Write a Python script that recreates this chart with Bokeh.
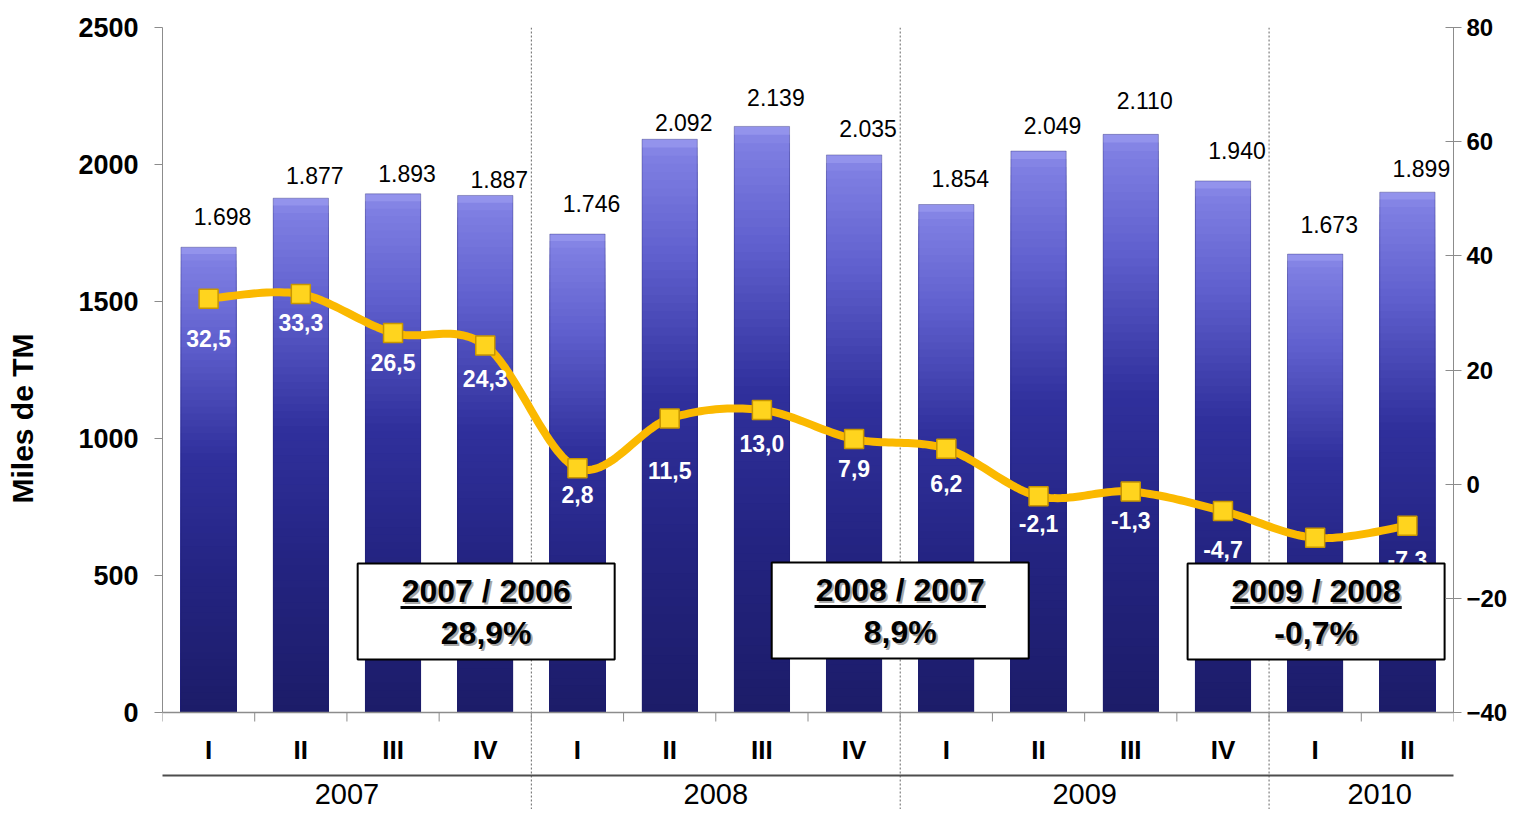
import numpy as np
from bokeh.plotting import figure
from bokeh.models import Range1d, LinearAxis, FixedTicker, Arrow
from bokeh.core.properties import value
from bokeh.embed import file_html
from bokeh.resources import INLINE

# ---------------- data ----------------
quarters = ["I", "II", "III", "IV", "I", "II", "III", "IV", "I", "II", "III", "IV", "I", "II"]
quarter_year = ["2007"] * 4 + ["2008"] * 4 + ["2009"] * 4 + ["2010"] * 2
years = ["2007", "2008", "2009", "2010"]
tonnes = [1698, 1877, 1893, 1887, 1746, 2092, 2139, 2035, 1854, 2049, 2110, 1940, 1673, 1899]
tonnes_labels = ["1.698", "1.877", "1.893", "1.887", "1.746", "2.092", "2.139", "2.035",
                 "1.854", "2.049", "2.110", "1.940", "1.673", "1.899"]
growth = [32.5, 33.3, 26.5, 24.3, 2.8, 11.5, 13.0, 7.9, 6.2, -2.1, -1.3, -4.7, -9.4, -7.3]
growth_labels = ["32,5", "33,3", "26,5", "24,3", "2,8", "11,5", "13,0", "7,9", "6,2",
                 "-2,1", "-1,3", "-4,7", "-9,4", "-7,3"]
period_titles = ["2007 / 2006", "2008 / 2007", "2009 / 2008"]
period_values = ["28,9%", "8,9%", "-0,7%"]
left_ticks = [0, 500, 1000, 1500, 2000, 2500]
right_ticks = [-40, -20, 0, 20, 40, 60, 80]

# ---------------- layout ----------------
W, H = 1510, 809
FL, FR, FT = 162, 52, 27
frame_h = H - FT
axis_px = 685.0                      # pixel height of 0..2500
u = 2500.0 / axis_px                 # left units per pixel
ur = 120.0 / axis_px                 # right units per pixel
y_lo = 2500 - frame_h * u
r_lo = 80 - frame_h * ur
n = len(tonnes)
xc = [i + 0.5 for i in range(n)]
px_x = (W - FL - FR) / n             # pixels per category
FONT = value("Liberation Sans")

p = figure(width=W, height=H, x_range=Range1d(0, n), y_range=Range1d(y_lo, 2500),
           output_backend="svg", toolbar_location=None, x_axis_location=None,
           min_border_left=FL, min_border_right=FR, min_border_top=FT, min_border_bottom=0,
           background_fill_color="white", border_fill_color="white")
p.extra_y_ranges = {"right": Range1d(r_lo, 80)}
p.grid.visible = False
p.outline_line_color = None

la = p.yaxis[0]
la.ticker = FixedTicker(ticks=left_ticks)
la.bounds = (0, 2500)
la.axis_line_color = "#8c8c8c"
la.major_tick_line_color = "#8c8c8c"
la.major_tick_out = 8
la.major_tick_in = 0
la.minor_tick_line_color = None
la.major_label_standoff = 16
la.major_label_text_font = "Liberation Sans"
la.major_label_text_font_style = "bold"
la.major_label_text_font_size = "27px"
la.major_label_text_color = "black"
la.axis_label = "Miles de TM"
la.axis_label_text_font = "Liberation Sans"
la.axis_label_text_font_style = "bold"
la.axis_label_text_font_size = "30px"
la.axis_label_text_color = "black"
la.axis_label_standoff = 36

ra = LinearAxis(y_range_name="right", ticker=FixedTicker(ticks=right_ticks), bounds=(-40, 80))
ra.axis_line_color = "#8c8c8c"
ra.major_tick_line_color = "#8c8c8c"
ra.major_tick_out = 8
ra.major_tick_in = 8
ra.minor_tick_line_color = None
ra.major_label_standoff = 5
ra.major_label_text_font = "Liberation Sans"
ra.major_label_text_font_style = "bold"
ra.major_label_text_font_size = "24px"
ra.major_label_text_color = "black"
p.add_layout(ra, "right")

# ---------------- gradient bars ----------------
stops = [(0.0, (0x9A, 0x9A, 0xF0)), (0.025, (0x80, 0x80, 0xE3)), (0.2, (0x60, 0x60, 0xCE)),
         (0.45, (0x30, 0x30, 0x9C)), (0.7, (0x24, 0x24, 0x82)), (1.0, (0x1C, 0x1C, 0x68))]


def grad(f):
    for (f0, c0), (f1, c1) in zip(stops[:-1], stops[1:]):
        if f <= f1:
            t = (f - f0) / (f1 - f0)
            return "#%02x%02x%02x" % tuple(int(round(a + (b - a) * t)) for a, b in zip(c0, c1))
    return "#%02x%02x%02x" % stops[-1][1]


N = 70
bx, btop, bcol = [], [], []
for k in range(N - 1, -1, -1):
    for i in range(n):
        bx.append(xc[i])
        btop.append(tonnes[i] * (k + 1) / N)
        bcol.append(grad(1 - (k + 0.5) / N))
p.vbar(x=bx, top=btop, bottom=0, width=0.6, fill_color=bcol, line_color=None)
p.vbar(x=xc, top=tonnes, bottom=0, width=0.6, fill_color=None, line_color="#20206a",
       line_alpha=0.35, line_width=1)

# ---------------- separators / x axis ----------------
sep_x = [i for i in range(1, n) if quarter_year[i] != quarter_year[i - 1]]
p.segment(x0=sep_x, y0=[y_lo] * len(sep_x), x1=sep_x, y1=[2600] * len(sep_x),
          line_color="#666666", line_dash="2 2", line_width=1)
p.segment(x0=[0], y0=[0], x1=[n], y1=[0], line_color="#8c8c8c", line_width=1.5)
tx = list(range(n + 1))
p.segment(x0=tx, y0=[0] * len(tx), x1=tx, y1=[-9 * u] * len(tx), line_color="#8c8c8c", line_width=1)

p.text(x=xc, y=[-37 * u] * n, text=quarters, text_font=FONT, text_font_style="bold",
       text_font_size="26px", text_align="center", text_baseline="middle", text_color="black")

year_line_end = n + 0.4
yl = -63 * u
p.add_layout(Arrow(end=None, x_start=-0.03, y_start=yl, x_end=year_line_end, y_end=yl,
                   line_color="#4d4d4d", line_width=2))
bounds = [0] + sep_x + [year_line_end]
ycx = [(a + b) / 2 for a, b in zip(bounds[:-1], bounds[1:])]
p.text(x=ycx, y=[-81 * u] * len(years), text=years, text_font=FONT, text_font_size="29px",
       text_align="center", text_baseline="middle", text_color="black")

# ---------------- smooth growth line ----------------
def smooth(xs, ys, m=24):
    xs, ys = np.asarray(xs, float), np.asarray(ys, float)
    ox, oy = [], []
    L = len(xs)
    for i in range(L - 1):
        i0, i3 = max(i - 1, 0), min(i + 2, L - 1)
        p0, p1, p2, p3 = [np.array([xs[j], ys[j]]) for j in (i0, i, i + 1, i3)]
        c1 = p1 + (p2 - p0) / 6.0
        c2 = p2 - (p3 - p1) / 6.0
        for t in np.linspace(0, 1, m, endpoint=(i == L - 2)):
            b = (1 - t) ** 3 * p1 + 3 * (1 - t) ** 2 * t * c1 + 3 * (1 - t) * t ** 2 * c2 + t ** 3 * p2
            ox.append(b[0]); oy.append(b[1])
    return ox, oy


sx, sy = smooth(xc, growth)
p.line(sx, sy, y_range_name="right", line_color="#FBB900", line_width=8, line_join="round")
p.scatter(xc, growth, y_range_name="right", marker="square", size=19,
          fill_color="#FFD41E", line_color="#C89600", line_width=1.5)

growth_dy = [40, 28, 30, 33, 26, 52, 34, 29, 35, 27, 29, 39, 34, 34]
p.text(x=xc, y=growth, y_range_name="right", text=growth_labels, y_offset=growth_dy,
       text_font=FONT, text_font_style="bold", text_font_size="23px", text_align="center",
       text_baseline="middle", text_color="white")

tonnes_dy = [-31, -23, -20, -16, -31, -17, -29, -26, -26, -26, -34, -30, -30, -24]
p.text(x=xc, y=tonnes, text=tonnes_labels, x_offset=14, y_offset=tonnes_dy,
       text_font=FONT, text_font_size="23px", text_align="center", text_baseline="middle",
       text_color="black")

# ---------------- period boxes ----------------
box_cx = [3.51, 8.0, 12.51]
box_top = [149 * u, 150 * u, 149 * u]
box_h = 96 * u
box_w = 258 / px_x
p.quad(left=[c - box_w / 2 for c in box_cx], right=[c + box_w / 2 for c in box_cx],
       top=box_top, bottom=[t - box_h for t in box_top],
       fill_color="white", line_color="black", line_width=2)
t1y = [t - 27 * u for t in box_top]
t2y = [t - 69 * u for t in box_top]
for dx, dyy, col in [(2, 2, "#a6a6a6"), (0, 0, "black")]:
    p.text(x=box_cx, y=t1y, text=period_titles, x_offset=dx, y_offset=dyy, text_font=FONT,
           text_font_style="bold", text_font_size="32px", text_align="center",
           text_baseline="middle", text_color=col)
    p.text(x=box_cx, y=t2y, text=period_values, x_offset=dx, y_offset=dyy, text_font=FONT,
           text_font_style="bold", text_font_size="32px", text_align="center",
           text_baseline="middle", text_color=col)
uw = 86 / px_x
p.segment(x0=[c - uw for c in box_cx], y0=[t - 17 * u for t in t1y],
          x1=[c + uw for c in box_cx], y1=[t - 17 * u for t in t1y],
          line_color="black", line_width=3)

open("out.html", "w").write(file_html(p, INLINE))
